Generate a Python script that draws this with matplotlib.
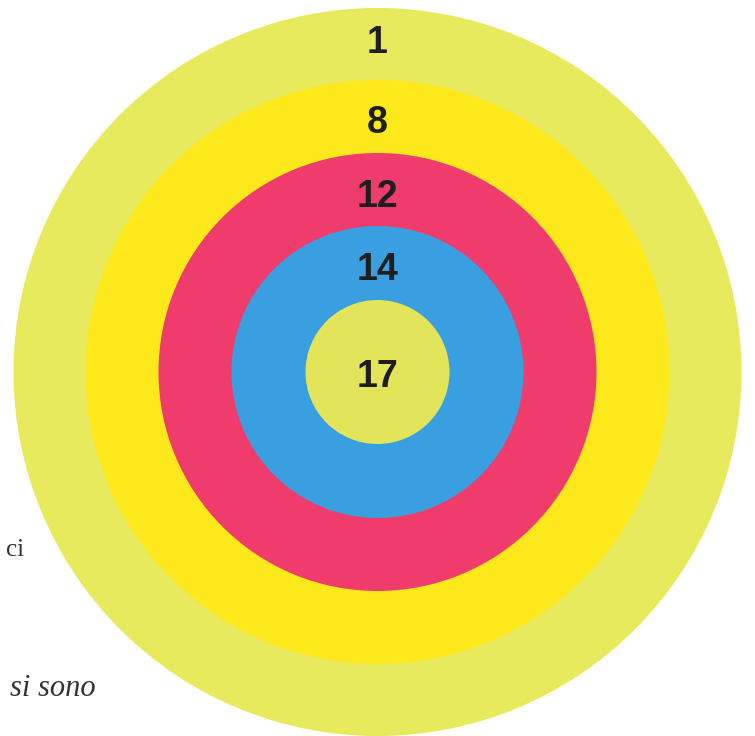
import matplotlib.pyplot as plt
from matplotlib.patches import Circle

# rings, outer to inner
ring_labels = ['1', '8', '12', '14', '17']
ring_radius = [364, 292, 219, 146, 72]
ring_colors = ['#e6ea5c', '#fde81c', '#f03c6c', '#3a9fe0', '#e2e45a']
label_y = [43, 123, 197, 270, 377]

center = (377.5, 372)

fig = plt.figure(figsize=(7.55, 7.36), dpi=100)
ax = fig.add_axes([0, 0, 1, 1])
ax.set_xlim(0, 755)
ax.set_ylim(736, 0)
ax.set_aspect('equal')
ax.axis('off')

for r, c in zip(ring_radius, ring_colors):
    ax.add_patch(Circle(center, r, facecolor=c, edgecolor='none'))

for lab, y in zip(ring_labels, label_y):
    ax.text(center[0], y, lab, ha='center', va='center', fontsize=27,
            fontweight='bold', family='Liberation Sans', color='#1e1e1e')

# bits of the printed page behind the target
ax.text(6, 550, 'ci', ha='left', va='center', fontsize=18,
        family='Liberation Serif', color='#333333')
ax.text(10, 688, 'si sono', ha='left', va='center', fontsize=22,
        style='italic', family='Liberation Serif', color='#333333')

fig.savefig('out.png', dpi=100)
